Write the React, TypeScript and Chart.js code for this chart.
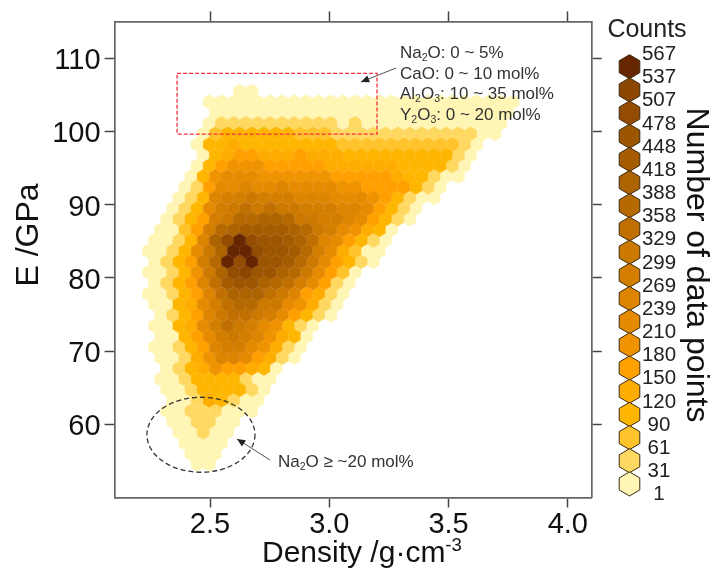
import React, { useEffect, useRef } from "react";
import { Chart, registerables } from "chart.js";

Chart.register(...registerables);

const FONT = '"Liberation Sans", Arial, sans-serif';

const countLabels = [567, 537, 507, 478, 448, 418, 388, 358, 329, 299, 269, 239, 210, 180, 150, 120, 90, 61, 31, 1];
const binColors = [
  "#FFF5B5", "#FFD862", "#FFC42B", "#FFB600", "#FFAC00", "#FFA000", "#EF9300", "#E68A00", "#DD8400", "#D47E00",
  "#CC7900", "#BF7000", "#B66900", "#AD6300", "#A55C00", "#9C5500", "#944D00", "#8B4700", "#662700",
];
const xTicks = [2.5, 3.0, 3.5, 4.0];
const yTicks = [60, 70, 80, 90, 100, 110];

const row00 = [0, 0];
const row01 = [0, 0, 0, 0, 0, 0, 0, 0, 0, 0, 0, 0, 0, 0, 0, 0, 0, 0, 0, 0, 0, 0, 0, 0, 0, 0];
const row02 = [0, 0, 0, 0, 0, 0, 0, 0, 0, 0, 0, 0, 0, 0, 0, 0, 0, 0, 0, 0, 0, 0, 0, 0, 0];
const row03 = [0, 1, 1, 1, 1, 1, 1, 1, 1, 1, 1, 0, 1, 0, 0, 0, 0, 0, 0, 0, 0, 0, 0, 0, 0];
const row04 = [0, 2, 3, 3, 3, 3, 3, 3, 2, 2, 2, 1, 1, 1, 1, 1, 1, 1, 1, 1, 1, 1, 1, 0, 0];
const row05 = [0, 3, 3, 4, 3, 3, 3, 3, 3, 3, 3, 3, 2, 2, 2, 2, 2, 2, 2, 2, 2, 2, 1, 0];
const row06 = [0, 3, 4, 5, 5, 4, 4, 4, 5, 4, 4, 4, 3, 3, 3, 3, 3, 3, 3, 3, 3, 1, 0];
const row07 = [0, 3, 5, 6, 6, 6, 5, 5, 5, 5, 5, 4, 4, 4, 4, 4, 4, 3, 3, 3, 3, 1, 0];
const row08 = [0, 3, 6, 7, 7, 7, 6, 6, 6, 6, 6, 6, 5, 5, 5, 5, 5, 4, 3, 3, 1, 0, 0];
const row09 = [0, 1, 5, 7, 7, 8, 7, 7, 8, 7, 7, 7, 7, 6, 6, 5, 5, 5, 5, 3, 1, 0];
const row10 = [0, 1, 3, 8, 9, 9, 10, 9, 9, 9, 8, 8, 8, 7, 7, 7, 6, 5, 3, 1, 0, 0];
const row11 = [0, 1, 3, 7, 9, 10, 11, 10, 11, 10, 10, 9, 9, 9, 8, 8, 7, 5, 3, 1, 0];
const row12 = [0, 1, 3, 5, 9, 10, 12, 12, 13, 13, 12, 10, 10, 9, 9, 8, 7, 5, 3, 1, 0];
const row13 = [0, 0, 2, 5, 9, 12, 13, 14, 14, 14, 14, 13, 12, 10, 9, 7, 6, 4, 3, 0];
const row14 = [0, 0, 1, 3, 8, 13, 16, 18, 16, 15, 15, 14, 13, 11, 8, 7, 5, 3, 1, 0];
const row15 = [0, 0, 1, 3, 7, 10, 13, 18, 18, 16, 15, 15, 14, 12, 9, 7, 4, 2, 0, 0];
const row16 = [0, 1, 3, 5, 9, 12, 18, 16, 18, 15, 15, 14, 12, 10, 7, 5, 3, 1, 0];
const row17 = [0, 0, 1, 3, 6, 10, 13, 16, 17, 15, 15, 13, 12, 10, 7, 5, 2, 0];
const row18 = [0, 1, 3, 5, 8, 11, 14, 15, 15, 13, 12, 11, 9, 7, 5, 1, 0];
const row19 = [0, 0, 1, 3, 5, 8, 11, 13, 13, 13, 11, 10, 8, 5, 4, 1, 0];
const row20 = [0, 0, 3, 4, 7, 9, 11, 12, 12, 10, 10, 7, 6, 4, 1, 0];
const row21 = [0, 1, 3, 5, 8, 10, 11, 11, 10, 9, 7, 5, 3, 1, 0];
const row22 = [0, 0, 3, 4, 7, 9, 11, 10, 9, 7, 6, 3, 1, 0];
const row23 = [0, 0, 3, 5, 7, 9, 10, 9, 8, 6, 4, 3, 0];
const row24 = [0, 0, 1, 3, 5, 8, 9, 9, 7, 6, 4, 1, 0];
const row25 = [0, 0, 1, 4, 6, 8, 8, 7, 5, 4, 1, 0];
const row26 = [0, 1, 3, 4, 6, 5, 5, 4, 3, 0];
const row27 = [0, 0, 1, 3, 3, 3, 3, 1, 0, 0];
const row28 = [0, 0, 1, 3, 3, 3, 3, 1, 0];
const row29 = [0, 0, 1, 4, 3, 1, 0, 0];
const row30 = [0, 0, 1, 1, 1, 0, 0, 0];
const row31 = [0, 0, 1, 1, 0, 0];
const row32 = [0, 0, 1, 0, 0];
const row33 = [0, 0, 0, 0];
const row34 = [0, 0, 0];
const row35 = [0, 0];

const rowBins = [
  row00, row01, row02, row03, row04, row05, row06, row07, row08, row09, row10, row11, row12, row13, row14, row15, row16, row17,
  row18, row19, row20, row21, row22, row23, row24, row25, row26, row27, row28, row29, row30, row31, row32, row33, row34, row35,
];
const rowStartColumn = [8, 5, 6, 5, 5, 4, 5, 4, 4, 3, 3, 2, 2, 1, 1, 0, 1, 0, 1, 0, 1, 1, 1, 1, 1, 1, 2, 1, 2, 2, 2, 2, 3, 3, 4, 4];

const X_ORIGIN = 2.2166;
const X_STEP = 0.05094;
const Y_ORIGIN = 105.47;
const Y_STEP = 1.4552;

function hexPath(ctx: CanvasRenderingContext2D, cx: number, cy: number, hw: number, r: number) {
  ctx.beginPath();
  ctx.moveTo(cx, cy - r);
  ctx.lineTo(cx + hw, cy - r / 2);
  ctx.lineTo(cx + hw, cy + r / 2);
  ctx.lineTo(cx, cy + r);
  ctx.lineTo(cx - hw, cy + r / 2);
  ctx.lineTo(cx - hw, cy - r / 2);
  ctx.closePath();
}

function cellsForBin(bin: number) {
  const pts: { x: number; y: number }[] = [];
  rowBins.forEach((row, i) => {
    row.forEach((b, j) => {
      if (b !== bin) return;
      const col = rowStartColumn[i] + j;
      pts.push({ x: X_ORIGIN + col * X_STEP + (i % 2 ? X_STEP / 2 : 0), y: Y_ORIGIN - i * Y_STEP });
    });
  });
  return pts;
}

type Run = [string, "sub" | "sup" | null];

function drawRuns(ctx: CanvasRenderingContext2D, x: number, y: number, runs: Run[], size: number, color: string) {
  ctx.fillStyle = color;
  ctx.textAlign = "left";
  ctx.textBaseline = "alphabetic";
  let cx = x;
  for (const [t, kind] of runs) {
    const s = kind ? size * 0.62 : size;
    ctx.font = `${s}px ${FONT}`;
    const dy = kind === "sub" ? size * 0.2 : kind === "sup" ? -size * 0.38 : 0;
    ctx.fillText(t, cx, y + dy);
    cx += ctx.measureText(t).width;
  }
}

function arrow(ctx: CanvasRenderingContext2D, x1: number, y1: number, x2: number, y2: number) {
  const a = Math.atan2(y2 - y1, x2 - x1);
  ctx.strokeStyle = "#555555";
  ctx.lineWidth = 1;
  ctx.setLineDash([]);
  ctx.beginPath();
  ctx.moveTo(x1, y1);
  ctx.lineTo(x2, y2);
  ctx.stroke();
  ctx.fillStyle = "#222222";
  ctx.beginPath();
  ctx.moveTo(x2, y2);
  ctx.lineTo(x2 - 9 * Math.cos(a - 0.42), y2 - 9 * Math.sin(a - 0.42));
  ctx.lineTo(x2 - 9 * Math.cos(a + 0.42), y2 - 9 * Math.sin(a + 0.42));
  ctx.closePath();
  ctx.fill();
}

const hexPlugin = {
  id: "hexCells",
  beforeDatasetsDraw(chart: any) {
    const { ctx } = chart;
    ctx.save();
    chart.data.datasets.forEach((ds: any, i: number) => {
      ctx.fillStyle = ds.backgroundColor;
      ctx.strokeStyle = ds.backgroundColor;
      ctx.lineWidth = 0.5;
      chart.getDatasetMeta(i).data.forEach((p: any) => {
        hexPath(ctx, p.x, p.y, 6.0, 7.05);
        ctx.fill();
        ctx.stroke();
      });
    });
    ctx.restore();
  },
};

const overlayPlugin = {
  id: "overlay",
  afterDraw(chart: any) {
    const { ctx, scales } = chart;
    const sx = scales.x;
    const sy = scales.y;
    ctx.save();

    ctx.strokeStyle = "#F5303C";
    ctx.lineWidth = 1.3;
    ctx.setLineDash([4, 2]);
    const rx = sx.getPixelForValue(2.362);
    const ry = sy.getPixelForValue(107.9);
    ctx.strokeRect(rx, ry, sx.getPixelForValue(3.2) - rx, sy.getPixelForValue(99.6) - ry);

    ctx.strokeStyle = "#333333";
    ctx.setLineDash([5, 3]);
    ctx.beginPath();
    ctx.ellipse(sx.getPixelForValue(2.462), sy.getPixelForValue(58.57), 54, 37.5, 0, 0, Math.PI * 2);
    ctx.stroke();
    ctx.setLineDash([]);

    arrow(ctx, 396, 68, 361, 82);
    arrow(ctx, 270, 460, 237, 439);

    const tc = "#333333";
    const ts = 17;
    drawRuns(ctx, 400, 58, [["Na", null], ["2", "sub"], ["O: 0 ~ 5%", null]], ts, tc);
    drawRuns(ctx, 400, 79, [["CaO: 0 ~ 10 mol%", null]], ts, tc);
    drawRuns(ctx, 400, 99, [["Al", null], ["2", "sub"], ["O", null], ["3", "sub"], [": 10 ~ 35 mol%", null]], ts, tc);
    drawRuns(ctx, 400, 120, [["Y", null], ["2", "sub"], ["O", null], ["3", "sub"], [": 0 ~ 20 mol%", null]], ts, tc);
    drawRuns(ctx, 278, 467, [["Na", null], ["2", "sub"], ["O ≥ ~20 mol%", null]], ts, tc);

    drawRuns(ctx, 262, 562, [["Density /g·cm", null], ["-3", "sup"]], 30, "#111111");

    ctx.save();
    ctx.translate(38, 235);
    ctx.rotate(-Math.PI / 2);
    ctx.font = `32px ${FONT}`;
    ctx.fillStyle = "#111111";
    ctx.textAlign = "center";
    ctx.textBaseline = "alphabetic";
    ctx.fillText("E /GPa", 0, 0);
    ctx.restore();

    // colour key
    const n = binColors.length;
    for (let i = 0; i < n; i++) {
      const cy = 66.7 + i * 23.18;
      hexPath(ctx, 629.5, cy, 10.3, 12);
      ctx.fillStyle = binColors[n - 1 - i];
      ctx.fill();
      ctx.strokeStyle = "#3A2A10";
      ctx.lineWidth = 1;
      ctx.stroke();
    }
    ctx.fillStyle = "#222222";
    ctx.textAlign = "center";
    ctx.textBaseline = "middle";
    ctx.font = `20.5px ${FONT}`;
    countLabels.forEach((v, i) => ctx.fillText(String(v), 659, 54.5 + i * 23.16));
    ctx.font = `25px ${FONT}`;
    ctx.fillText("Counts", 647, 30);

    ctx.save();
    ctx.translate(687, 265);
    ctx.rotate(Math.PI / 2);
    ctx.font = `32px ${FONT}`;
    ctx.fillStyle = "#111111";
    ctx.textAlign = "center";
    ctx.textBaseline = "alphabetic";
    ctx.fillText("Number of data points", 0, 0);
    ctx.restore();

    ctx.restore();
  },
};

export default function App() {
  const ref = useRef<HTMLCanvasElement>(null);
  useEffect(() => {
    const setTicks = (values: number[]) => (s: any) => {
      s.ticks = values.map((value) => ({ value }));
    };
    const fix = (key: "width" | "height", size: number) => (s: any) => {
      s[key] = size;
    };
    const grid = { drawOnChartArea: false, color: "#444444", tickColor: "#444444", tickLength: 10, tickWidth: 1.5 };
    const border = { display: true, color: "#666666", width: 1.7 };
    const xRange = { min: 2.1, max: 4.1 };
    const yRange = { min: 50, max: 115 };
    const chart = new Chart(ref.current!, {
      type: "scatter",
      data: {
        datasets: binColors.map((color, bin) => ({
          label: `bin ${bin}`,
          data: cellsForBin(bin),
          pointRadius: 0,
          backgroundColor: color,
          borderColor: color,
        })),
      },
      options: {
        responsive: false,
        animation: false,
        devicePixelRatio: 1,
        events: [],
        layout: { padding: 0 },
        plugins: { legend: { display: false }, tooltip: { enabled: false } },
        scales: {
          x: {
            type: "linear",
            position: "bottom",
            ...xRange,
            afterBuildTicks: setTicks(xTicks),
            afterFit: fix("height", 73.5),
            grid,
            border,
            ticks: { font: { family: FONT, size: 29 }, color: "#111111", padding: 0, maxRotation: 0, callback: (v: any) => Number(v).toFixed(1) },
          },
          xTop: {
            type: "linear",
            position: "top",
            ...xRange,
            afterBuildTicks: setTicks(xTicks),
            afterFit: fix("height", 20),
            grid,
            border,
            ticks: { display: false },
          },
          y: {
            type: "linear",
            position: "left",
            ...yRange,
            afterBuildTicks: setTicks(yTicks),
            afterFit: fix("width", 114.6),
            grid,
            border,
            ticks: { font: { family: FONT, size: 29 }, color: "#111111", padding: 4, labelOffset: 3 },
          },
          yRight: {
            type: "linear",
            position: "right",
            ...yRange,
            afterBuildTicks: setTicks(yTicks),
            afterFit: fix("width", 121.3),
            grid,
            border,
            ticks: { display: false },
          },
        },
      } as any,
      plugins: [hexPlugin, overlayPlugin],
    });
    return () => chart.destroy();
  }, []);
  return <canvas ref={ref} width={713} height={571} style={{ position: "fixed", left: 0, top: 0, display: "block" }} />;
}
